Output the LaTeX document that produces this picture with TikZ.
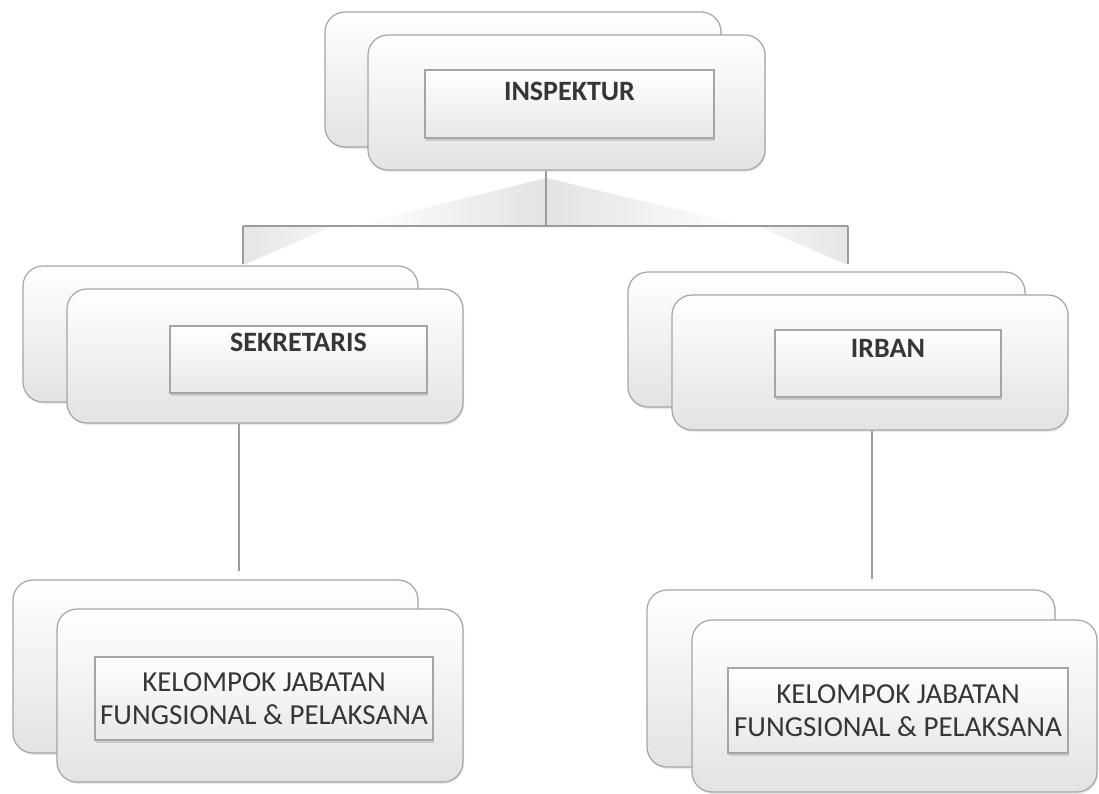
\documentclass[tikz,border=0pt]{standalone}
\usepackage{fontspec}
\setmainfont{Carlito}
\usetikzlibrary{shadows}
\definecolor{edge}{HTML}{A5A5A5}
\definecolor{ink}{HTML}{363636}
\definecolor{wire}{HTML}{9C9C9C}
\begin{document}
\begin{tikzpicture}[x=1pt,y=-1pt,
  card/.style={draw=edge, line width=1.2pt, rounded corners=20pt, inner sep=0pt,
    top color=white, bottom color=black!11,
    drop shadow={shadow xshift=1pt, shadow yshift=-2pt, opacity=.16}},
  plate/.style={draw=edge, line width=1.1pt, inner sep=0pt,
    top color=white, bottom color=black!9, text=ink,
    drop shadow={shadow xshift=1pt, shadow yshift=-3pt, opacity=.28}},
  title/.style={plate, font=\fontsize{28}{32}\selectfont\bfseries, text height=20pt},
  group/.style={plate, font=\fontsize{29}{33}\selectfont, align=center},
  wire/.style={draw=wire, line width=2pt},
  glow/.style={draw=none}
]
\path[use as bounding box, fill=white] (0,0) rectangle (1099,793);

% soft reflections around the top-level bus
\shade[glow, left color=white, right color=black!11] (353,226) -- (546,178) -- (546,226) -- cycle;
\shade[glow, left color=black!11, right color=white] (546,178) -- (747,226) -- (546,226) -- cycle;
\shade[glow, left color=black!10, right color=black!4] (243,226) -- (333,226) -- (243,265) -- cycle;
\shade[glow, left color=black!4, right color=black!10] (757,226) -- (848,226) -- (848,265) -- cycle;

% INSPEKTUR
\node[card, minimum width=396pt, minimum height=135pt] (inspB) at (523,79.5) {};
\node[card, minimum width=397pt, minimum height=135pt] (inspF) at (566.5,102.5) {};
\node[title, minimum width=289pt, minimum height=68pt, text depth=28pt] (inspI) at (569.5,104) {INSPEKTUR};

% SEKRETARIS
\node[card, minimum width=395pt, minimum height=136pt] (sekB) at (220.5,334) {};
\node[card, minimum width=396pt, minimum height=134pt] (sekF) at (265,356) {};
\node[title, minimum width=257pt, minimum height=67pt, text depth=37pt] (sekI) at (298.5,359.5) {SEKRETARIS};

% IRBAN
\node[card, minimum width=397pt, minimum height=135pt] (irbB) at (826.5,339.5) {};
\node[card, minimum width=396pt, minimum height=135pt] (irbF) at (870,362.5) {};
\node[title, minimum width=226pt, minimum height=67pt, text depth=32pt] (irbI) at (888,363.5) {IRBAN};

% functional groups
\node[card, minimum width=405pt, minimum height=173pt] (kjlB) at (215.5,666.5) {};
\node[card, minimum width=406pt, minimum height=173pt] (kjlF) at (260,695.5) {};
\node[group, minimum width=338pt, minimum height=83pt] (kjlI) at (264,698.5) {KELOMPOK JABATAN\\FUNGSIONAL \& PELAKSANA};

\node[card, minimum width=408pt, minimum height=177pt] (kjrB) at (851,678.5) {};
\node[card, minimum width=405pt, minimum height=172pt] (kjrF) at (894.5,706) {};
\node[group, minimum width=340pt, minimum height=85pt] (kjrI) at (898,710.5) {KELOMPOK JABATAN\\FUNGSIONAL \& PELAKSANA};

% connectors
\coordinate (bus) at (546,226);
\coordinate (lx) at (243,0);
\coordinate (rx) at (848,0);
\coordinate (ld) at (239,0);
\coordinate (rd) at (872,0);
\draw[wire] (inspF.south -| bus) -- (bus);
\draw[wire] (bus -| lx) -- (bus -| rx);
\draw[wire, shorten >=1pt] (bus -| lx) -- (sekB.north -| lx);
\draw[wire, shorten >=7pt] (bus -| rx) -- (irbB.north -| rx);
\draw[wire, shorten >=8pt] (sekF.south -| ld) -- (kjlB.north -| ld);
\draw[wire, shorten >=10pt] (irbF.south -| rd) -- (kjrB.north -| rd);
\end{tikzpicture}
\end{document}
